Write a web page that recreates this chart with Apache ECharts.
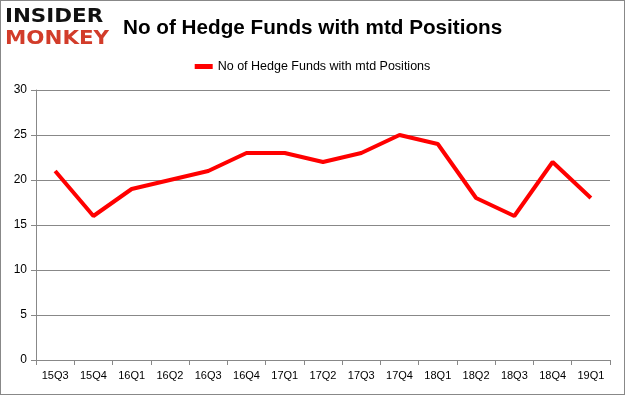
<!DOCTYPE html>
<html><head><meta charset="utf-8">
<script src="https://cdn.jsdelivr.net/npm/echarts@6/dist/echarts.min.js"></script>
<style>html,body{margin:0;padding:0;background:#fff}#c{width:625px;height:395px;box-sizing:border-box;border:1px solid #888}</style>
</head><body><div id="c"></div>
<script>
const categories = ['15Q3','15Q4','16Q1','16Q2','16Q3','16Q4','17Q1','17Q2','17Q3','17Q4','18Q1','18Q2','18Q3','18Q4','19Q1'];
const values = [21,16,19,20,21,23,23,22,23,25,24,18,16,22,18];
const seriesName = 'No of Hedge Funds with mtd Positions';
const chart = echarts.init(document.getElementById('c'));
chart.setOption({
  animation:false,
  title:{text:seriesName,left:117,top:12,textStyle:{fontFamily:'Liberation Sans',fontSize:20.7,fontWeight:'bold',color:'#000'}},
  legend:{data:[seriesName],top:54,left:'center',itemWidth:18,itemHeight:5,itemGap:2,icon:'rect',textStyle:{fontFamily:'Liberation Sans',fontSize:12.5,color:'#000'}},
  graphic:[
    {type:'text',x:4,y:6,scaleX:1.07,style:{text:'INSIDER',font:'900 20px "DejaVu Sans"',fill:'#111'}},
    {type:'text',x:4,y:28,scaleX:1.07,style:{text:'MONKEY',font:'900 20px "DejaVu Sans"',fill:'#d23c2a'}}
  ],
  grid:{left:35,right:14,top:89,bottom:34},
  xAxis:{type:'category',data:categories,boundaryGap:true,
    axisLine:{lineStyle:{color:'#888'}},axisTick:{show:true,length:5,lineStyle:{color:'#888'}},
    axisLabel:{fontFamily:'Liberation Sans',fontSize:11,color:'#000',margin:10,interval:0}},
  yAxis:{type:'value',min:0,max:30,interval:5,
    axisLine:{show:true,lineStyle:{color:'#888'}},axisTick:{show:true,length:5,lineStyle:{color:'#888'}},
    splitLine:{lineStyle:{color:'#888'}},
    axisLabel:{fontFamily:'Liberation Sans',fontSize:12,color:'#000',margin:9}},
  series:[{name:seriesName,type:'line',data:values,symbol:'none',lineStyle:{color:'#ff0000',width:4},itemStyle:{color:'#ff0000'}}]
});
</script></body></html>
